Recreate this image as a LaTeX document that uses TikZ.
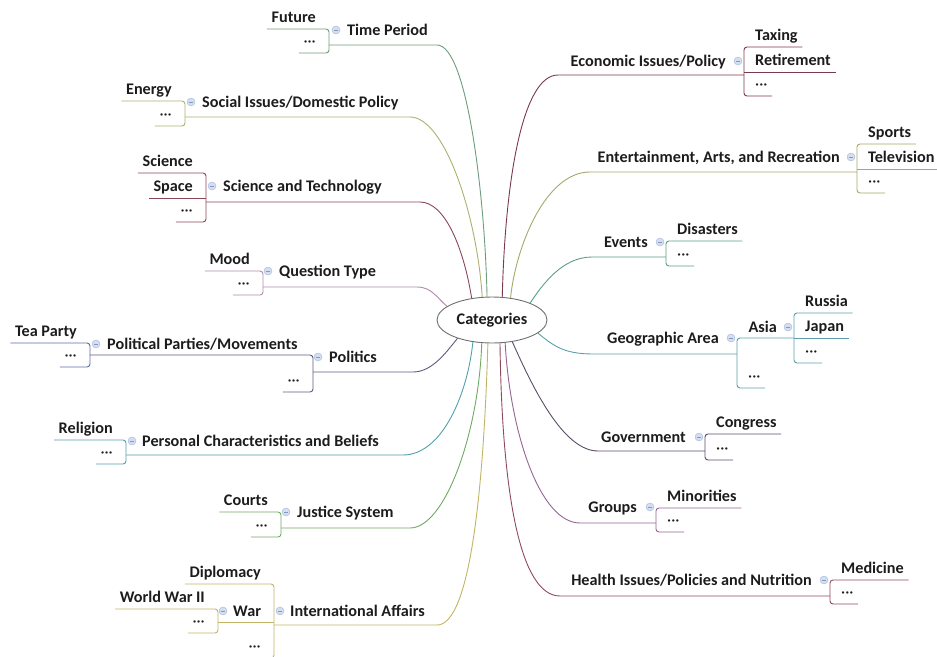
\documentclass[tikz,border=0pt]{standalone}
\usepackage{fontspec}
\setmainfont{Carlito}
\usetikzlibrary{shapes.geometric}
\definecolor{txt}{HTML}{1C1C1C}
\definecolor{ellc}{HTML}{707070}
\definecolor{icf}{HTML}{D3DEF0}
\definecolor{icd}{HTML}{A4B6D6}
\definecolor{icm}{HTML}{8598C0}
\definecolor{cTime}{HTML}{6E9C7E}
\definecolor{cSoc}{HTML}{ADB06E}
\definecolor{cST}{HTML}{8A4656}
\definecolor{cQT}{HTML}{B08AAA}
\definecolor{cPol}{HTML}{5E5A7E}
\definecolor{cPP}{HTML}{5A6EA6}
\definecolor{cPers}{HTML}{52A0AC}
\definecolor{cJus}{HTML}{6EAA62}
\definecolor{cIntl}{HTML}{C2B464}
\definecolor{cEco}{HTML}{7A3A4C}
\definecolor{cEnt}{HTML}{A6A86A}
\definecolor{cEvt}{HTML}{5E9E84}
\definecolor{cGeo}{HTML}{5E9EAE}
\definecolor{cGov}{HTML}{5C4C66}
\definecolor{cGrp}{HTML}{946494}
\definecolor{cHlt}{HTML}{8E4A5C}
\newcommand\mmfont{\bfseries\fontsize{16.2}{19}\selectfont}
\newcommand\mmdots{{\mdseries ···}}
\begin{document}
\begin{tikzpicture}[x=1pt,y=-1pt,
  mmtxt/.style={inner sep=0pt, text=txt, font=\mmfont},
  topic/.style={mmtxt, anchor=base west},
  rtopic/.style={mmtxt, anchor=base east},
  lchild/.style={mmtxt, inner xsep=4.5pt, inner ysep=0pt, text height=10pt, text depth=6.5pt, anchor=south east},
  rchild/.style={mmtxt, inner xsep=4.5pt, inner ysep=0pt, text height=10pt, text depth=6.5pt, anchor=south west},
  collapse/.style={circle, fill=icf, draw=icd, line width=0.4pt, minimum size=8pt, inner sep=0pt,
    path picture={\draw[icm, line width=0.8pt] ([xshift=-2pt]path picture bounding box.center) -- ([xshift=2pt]path picture bounding box.center);}},
  conn/.style={line width=0.9pt},
  brk/.style={line width=0.9pt, rounded corners=3pt},
]
\useasboundingbox (0,0) rectangle (937,656);
\clip (0,0) rectangle (937,656);
\node[ellipse, draw=ellc, line width=0.9pt, fill=white, minimum width=110pt, minimum height=46pt, inner sep=0pt, font=\mmfont, text=txt] (cat) at (492,320) {Categories};

% ---------- Time Period
\node[topic] (tp) at (347,35) {Time Period};
\node[collapse] (tpi) at (336,30) {};
\coordinate (tpb) at (329,45);
\coordinate (tpe) at (437,45);
\node[lchild] (tpA) at (320.5,29) {Future};
\node[lchild] (tpB) at (320.5,53) {\mmdots};
\draw[brk,cTime] (tpA.south west) -- (tpA.south west -| tpb) -- (tpB.south west -| tpb) -- (tpB.south west);
\draw[conn,cTime] (tpb) -- (tpe) .. controls +(30,0) and +(-2,-100) .. (cat.102);

% ---------- Social Issues
\node[topic] (so) at (202,107) {Social Issues/Domestic Policy};
\node[collapse] (soi) at (191,102) {};
\coordinate (sob) at (185,117);
\coordinate (soe) at (410,117);
\node[lchild] (soA) at (176.5,101) {Energy};
\node[lchild] (soB) at (176.5,126) {\mmdots};
\draw[brk,cSoc] (soA.south west) -- (soA.south west -| sob) -- (soB.south west -| sob) -- (soB.south west);
\draw[conn,cSoc] (sob) -- (soe) .. controls +(35,0) and +(-5,-80) .. (cat.113);

% ---------- Science and Technology
\node[topic] (st) at (223,191) {Science and Technology};
\node[collapse] (sti) at (212,186) {};
\coordinate (stb) at (206,202);
\coordinate (ste) at (420,202);
\node[lchild] (stA) at (197.5,173) {Science};
\node[lchild] (stB) at (197.5,198) {Space};
\node[lchild] (stC) at (197.5,222) {\mmdots};
\draw[brk,cST] (stA.south west) -- (stA.south west -| stb) -- (stC.south west -| stb) -- (stC.south west);
\draw[conn,cST] (stB.south west) -- (stB.south west -| stb);
\draw[conn,cST] (stb) -- (ste) .. controls +(25,0) and +(-8,-50) .. (cat.133);

% ---------- Question Type
\node[topic] (qt) at (279,276) {Question Type};
\node[collapse] (qti) at (268,271) {};
\coordinate (qtb) at (263,287);
\coordinate (qte) at (417,287);
\node[lchild] (qtA) at (254.5,271) {Mood};
\node[lchild] (qtB) at (254.5,295) {\mmdots};
\draw[brk,cQT] (qtA.south west) -- (qtA.south west -| qtb) -- (qtB.south west -| qtb) -- (qtB.south west);
\draw[conn,cQT] (qtb) -- (qte) .. controls +(15,0) and +(-10,-8) .. (cat.163);

% ---------- Politics
\node[topic] (po) at (329,362) {Politics};
\node[collapse] (poi) at (318,357) {};
\coordinate (pob) at (313,372);
\coordinate (poe) at (413,372);
\node[topic] (pp) at (107,349) {Political Parties/Movements};
\node[collapse] (ppi) at (96,344) {};
\coordinate (ppb) at (90,355);
\node[lchild] (poB) at (304.5,392) {\mmdots};
\draw[brk,cPol] (ppb) -- (ppb -| pob) -- (poB.south west -| pob) -- (poB.south west);
\draw[conn,cPol] (pob) -- (poe) .. controls +(20,0) and +(-10,12) .. (cat.208);
\node[lchild] (ppA) at (81.5,343) {Tea Party};
\node[lchild] (ppB) at (81.5,367) {\mmdots};
\draw[brk,cPP] (ppA.south west) -- (ppA.south west -| ppb) -- (ppB.south west -| ppb) -- (ppB.south west);

% ---------- Personal Characteristics
\node[topic] (pc) at (142,446) {Personal Characteristics and Beliefs};
\node[collapse] (pci) at (132,441) {};
\coordinate (pcb) at (126,455);
\coordinate (pce) at (403,455);
\node[lchild] (pcA) at (117.5,440) {Religion};
\node[lchild] (pcB) at (117.5,464) {\mmdots};
\draw[brk,cPers] (pcA.south west) -- (pcA.south west -| pcb) -- (pcB.south west -| pcb) -- (pcB.south west);
\draw[conn,cPers] (pcb) -- (pce) .. controls +(40,0) and +(-5,50) .. (cat.229);

% ---------- Justice System
\node[topic] (js) at (297,517) {Justice System};
\node[collapse] (jsi) at (286,512) {};
\coordinate (jsb) at (281,528);
\coordinate (jse) at (410,528);
\node[lchild] (jsA) at (272.5,512) {Courts};
\node[lchild] (jsB) at (272.5,537) {\mmdots};
\draw[brk,cJus] (jsA.south west) -- (jsA.south west -| jsb) -- (jsB.south west -| jsb) -- (jsB.south west);
\draw[conn,cJus] (jsb) -- (jse) .. controls +(35,0) and +(-3,90) .. (cat.246);

% ---------- International Affairs
\node[topic] (ia) at (290,616) {International Affairs};
\node[collapse] (iai) at (280,611) {};
\coordinate (iab) at (274,625);
\coordinate (iae) at (437,625);
\node[lchild] (iaA) at (265.5,584) {Diplomacy};
\node[lchild] (iaC) at (265.5,658) {\mmdots};
\node[topic] (wa) at (233,616) {War};
\node[collapse] (wai) at (223,611) {};
\coordinate (wab) at (218,622);
\draw[brk,cIntl] (iaA.south west) -- (iaA.south west -| iab) -- (iaC.south west -| iab) -- (iaC.south west);
\draw[conn,cIntl] (wab) -- (wab -| iab);
\draw[conn,cIntl] (iab) -- (iae) .. controls +(30,0) and +(-5,170) .. (cat.260);
\node[lchild] (waA) at (209.5,609) {World War II};
\node[lchild] (waB) at (209.5,633) {\mmdots};
\draw[brk,cIntl] (waA.south west) -- (waA.south west -| wab) -- (waB.south west -| wab) -- (waB.south west);

% ---------- Economic Issues
\node[rtopic] (ec) at (726,66) {Economic Issues/Policy};
\node[collapse] (eci) at (738,61) {};
\coordinate (ecb) at (744,75);
\coordinate (ece) at (558,75);
\node[rchild] (ecA) at (750.5,47) {Taxing};
\node[rchild] (ecB) at (750.5,72) {Retirement};
\node[rchild] (ecC) at (750.5,96) {\mmdots};
\draw[brk,cEco] (ecA.south east) -- (ecA.south west -| ecb) -- (ecC.south west -| ecb) -- (ecC.south east);
\draw[conn,cEco] (ecB.south west -| ecb) -- (ecB.south east);
\draw[conn,cEco] (ecb) -- (ece) .. controls +(-35,0) and +(3,-120) .. (cat.66);

% ---------- Entertainment
\node[rtopic] (en) at (840,162) {Entertainment, Arts, and Recreation};
\node[collapse] (eni) at (851,157) {};
\coordinate (enb) at (857,172);
\coordinate (ene) at (590,172);
\node[rchild] (enA) at (863.5,144) {Sports};
\node[rchild] (enB) at (863.5,169) {Television};
\node[rchild] (enC) at (863.5,193) {\mmdots};
\draw[brk,cEnt] (enA.south east) -- (enA.south west -| enb) -- (enC.south west -| enb) -- (enC.south east);
\draw[conn,cEnt] (enB.south west -| enb) -- (enB.south east);
\draw[conn,cEnt] (enb) -- (ene) .. controls +(-45,0) and +(5,-50) .. (cat.50);

% ---------- Events
\node[rtopic] (ev) at (648,247) {Events};
\node[collapse] (evi) at (660,242) {};
\coordinate (evb) at (666,257);
\coordinate (eve) at (592,257);
\node[rchild] (evA) at (672.5,241) {Disasters};
\node[rchild] (evB) at (672.5,266) {\mmdots};
\draw[brk,cEvt] (evA.south east) -- (evA.south west -| evb) -- (evB.south west -| evb) -- (evB.south east);
\draw[conn,cEvt] (evb) -- (eve) .. controls +(-30,0) and +(12,-18) .. (cat.24);

% ---------- Geographic Area
\node[rtopic] (ge) at (719,343) {Geographic Area};
\node[collapse] (gei) at (731,338) {};
\coordinate (geb) at (737,354);
\coordinate (gee) at (593,354);
\node[rtopic] (as) at (777,332) {Asia};
\node[collapse] (asi) at (788,327) {};
\coordinate (asb) at (794,338);
\node[rchild] (geB) at (743.5,388) {\mmdots};
\draw[brk,cGeo] (asb) -- (asb -| geb) -- (geB.south west -| geb) -- (geB.south east);
\draw[conn,cGeo] (geb) -- (gee) .. controls +(-30,0) and +(15,12) .. (cat.344);
\node[rchild] (asA) at (800.5,313) {Russia};
\node[rchild] (asB) at (800.5,338) {Japan};
\node[rchild] (asC) at (800.5,363) {\mmdots};
\draw[brk,cGeo] (asA.south east) -- (asA.south west -| asb) -- (asC.south west -| asb) -- (asC.south east);
\draw[conn,cGeo] (asb) -- (asB.south east);

% ---------- Government
\node[rtopic] (go) at (686,442) {Government};
\node[collapse] (goi) at (699,437) {};
\coordinate (gob) at (705,451);
\coordinate (goe) at (598,451);
\node[rchild] (goA) at (711.5,434) {Congress};
\node[rchild] (goB) at (711.5,460) {\mmdots};
\draw[brk,cGov] (goA.south east) -- (goA.south west -| gob) -- (goB.south west -| gob) -- (goB.south east);
\draw[conn,cGov] (gob) -- (goe) .. controls +(-35,0) and +(20,45) .. (cat.313);

% ---------- Groups
\node[rtopic] (gr) at (637,512) {Groups};
\node[collapse] (gri) at (650,507) {};
\coordinate (grb) at (656,523);
\coordinate (gre) at (580,523);
\node[rchild] (grA) at (662.5,508) {Minorities};
\node[rchild] (grB) at (662.5,532) {\mmdots};
\draw[brk,cGrp] (grA.south east) -- (grA.south west -| grb) -- (grB.south west -| grb) -- (grB.south east);
\draw[conn,cGrp] (grb) -- (gre) .. controls +(-40,0) and +(5,90) .. (cat.300);

% ---------- Health
\node[rtopic] (he) at (812,585) {Health Issues/Policies and Nutrition};
\node[collapse] (hei) at (824,580) {};
\coordinate (heb) at (830,596);
\coordinate (hee) at (560,596);
\node[rchild] (heA) at (836.5,580) {Medicine};
\node[rchild] (heB) at (836.5,604) {\mmdots};
\draw[brk,cHlt] (heA.south east) -- (heA.south west -| heb) -- (heB.south west -| heb) -- (heB.south east);
\draw[conn,cHlt] (heb) -- (hee) .. controls +(-40,0) and +(2,150) .. (cat.289);
\end{tikzpicture}
\end{document}
